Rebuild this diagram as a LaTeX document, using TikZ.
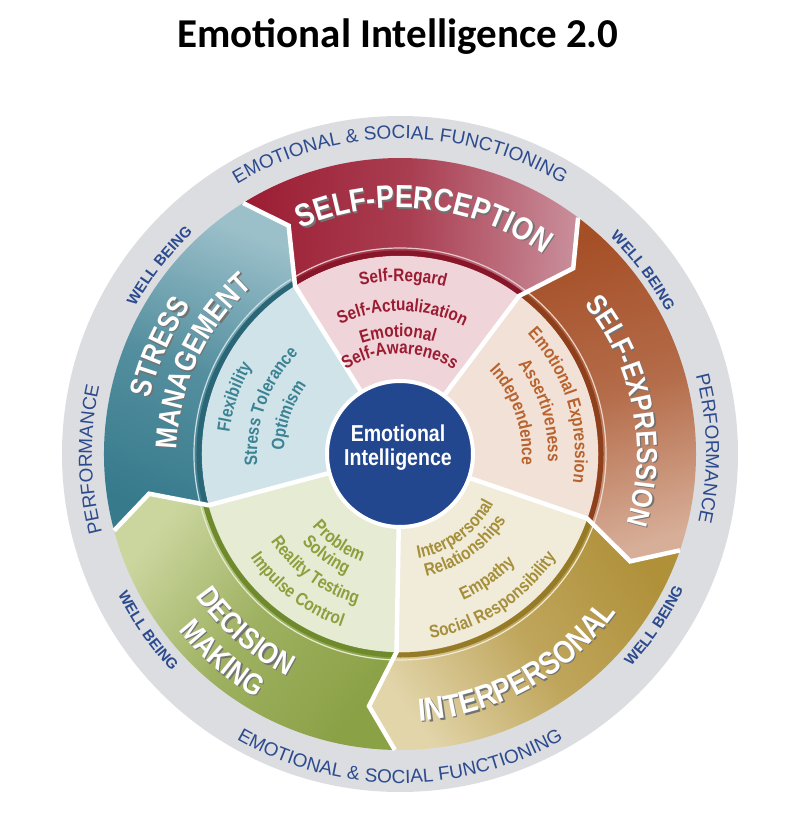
\documentclass[tikz,border=0pt]{standalone}
\usepackage{fontspec}
\setmainfont{Liberation Sans}
\newfontfamily\titlefont{Carlito}
\newfontfamily\condfont{Liberation Sans}[FakeStretch=0.85]
\usetikzlibrary{decorations.text}

\definecolor{percdark}{HTML}{9C1D33}
\definecolor{perclight}{HTML}{C98D9A}
\definecolor{percpale}{HTML}{EFD4D9}
\definecolor{perctext}{HTML}{9B1C32}
\definecolor{percline}{HTML}{861628}
\definecolor{exprdark}{HTML}{A54F27}
\definecolor{exprlight}{HTML}{D7AE98}
\definecolor{exprpale}{HTML}{F1E1D7}
\definecolor{exprtext}{HTML}{B8632E}
\definecolor{exprline}{HTML}{8E3F1C}
\definecolor{interdark}{HTML}{B0913A}
\definecolor{interlight}{HTML}{E2D5AA}
\definecolor{interpale}{HTML}{F1ECDA}
\definecolor{intertext}{HTML}{A58F3A}
\definecolor{interline}{HTML}{957A28}
\definecolor{decidark}{HTML}{8BA146}
\definecolor{decilight}{HTML}{CBD69F}
\definecolor{decipale}{HTML}{E6EBD3}
\definecolor{decitext}{HTML}{8B9F3D}
\definecolor{deciline}{HTML}{6E8A2C}
\definecolor{stredark}{HTML}{367A8C}
\definecolor{strelight}{HTML}{9BC0CA}
\definecolor{strepale}{HTML}{D0E3E9}
\definecolor{stretext}{HTML}{3B8293}
\definecolor{streline}{HTML}{2B6677}
\definecolor{eiblue}{HTML}{23478F}
\definecolor{ringgrey}{HTML}{DCDDE1}
\definecolor{ringblue}{HTML}{2C4B8E}
\colorlet{lblshadow}{black!55}

\newcommand\ringfnt{\fontsize{19}{19}\selectfont}
\newcommand\wellfnt{\bfseries\fontsize{15}{15}\selectfont}
\newcommand\lblfnt[1]{\condfont\bfseries\fontsize{#1}{#1}\selectfont}
\newcommand\subfnt{\condfont\bfseries\fontsize{18}{18}\selectfont}

% radius, centre angle, half span, colour, text
\newcommand\cwtext[5]{\path[decorate,decoration={text along path,text align=center,text color=#4,text={#5}}]
  ({#2+#3}:#1) arc[start angle={#2+#3},end angle={#2-#3},radius=#1];}
\newcommand\ccwtext[5]{\path[decorate,decoration={text along path,text align=center,text color=#4,text={#5}}]
  ({#2-#3}:#1) arc[start angle={#2-#3},end angle={#2+#3},radius=#1];}
% band labels with shadow
\newcommand\cwlabel[4]{\begin{scope}[shift={(1.4pt,-1.4pt)}]\cwtext{#1}{#2}{#3}{lblshadow}{#4}\end{scope}
  \cwtext{#1}{#2}{#3}{white}{#4}}
\newcommand\ccwlabel[4]{\begin{scope}[shift={(1.4pt,-1.4pt)}]\ccwtext{#1}{#2}{#3}{lblshadow}{#4}\end{scope}
  \ccwtext{#1}{#2}{#3}{white}{#4}}

\begin{document}
\begin{tikzpicture}[
  sep/.style={white,line width=4.5pt,line join=miter},
  core/.style={circle,fill=eiblue,draw=white,line width=4pt,minimum size=146pt,inner sep=0pt}]
\useasboundingbox (-400pt,-374pt) rectangle (400pt,454pt);

\node[anchor=base,font=\titlefont\bfseries\fontsize{41}{41}\selectfont] (title) at (-2pt,406pt) {Emotional Intelligence 2.0};

% outer ring
\fill[ringgrey] (0,0) circle[radius=338pt];

% bands and sectors
\foreach \a/\b/\dk/\lt/\pl/\st in {122/53/percdark/perclight/percpale/percline,
    53/-19/exprdark/exprlight/exprpale/exprline,
    -19/-91/interdark/interlight/interpale/interline,
    -91/-165/decidark/decilight/decipale/deciline,
    195/122/stredark/strelight/strepale/streline}{
  \pgfmathsetmacro\sa{(\a+\b)/2-180}
  \shade[top color=\lt,bottom color=\dk,middle color=\dk!70!\lt,shading angle=\sa]
    (\a:296pt) arc[start angle=\a,end angle=\b,radius=296pt] -- ({\b-6}:254pt) -- (\b:198pt)
    arc[start angle=\b,end angle=\a,radius=198pt] -- ({\a-6}:254pt) -- cycle;
  \fill[\pl] (0,0) -- (\a:198pt) arc[start angle=\a,end angle=\b,radius=198pt] -- cycle;
  \draw[\st,line width=5pt] (\a:201pt) arc[start angle=\a,end angle=\b,radius=201pt];
  \draw[\lt!50!white,line width=1.2pt] (\a:206pt) arc[start angle=\a,end angle=\b,radius=206pt];
}
\foreach \t in {122,53,-19,-91,-165}
  \draw[sep] (\t:73pt) -- (\t:198pt) -- ({\t-6}:254pt) -- (\t:296pt);

\node[core] (core) at (0,0) {};
\node[text=white,align=center,font=\condfont\bfseries\fontsize{23}{24}\selectfont] (eilabel) at (-2pt,6pt) {Emotional\\Intelligence};

% ring texts
\cwtext{315pt}{90}{60}{ringblue}{|\ringfnt|EMOTIONAL {\&} SOCIAL FUNCTIONING}
\ccwtext{329pt}{-90}{60}{ringblue}{|\ringfnt|EMOTIONAL {\&} SOCIAL FUNCTIONING}
\cwtext{308pt}{181}{40}{ringblue}{|\ringfnt|PERFORMANCE}
\cwtext{306pt}{1}{40}{ringblue}{|\ringfnt|PERFORMANCE}
\cwtext{303pt}{142}{20}{ringblue}{|\wellfnt|WELL BEING}
\cwtext{302pt}{37}{20}{ringblue}{|\wellfnt|WELL BEING}
\ccwtext{315pt}{-145}{20}{ringblue}{|\wellfnt|WELL BEING}
\ccwtext{314pt}{-34}{20}{ringblue}{|\wellfnt|WELL BEING}

% band labels
\cwlabel{246pt}{84}{50}{|\lblfnt{32}|SELF-PERCEPTION}
\cwlabel{237pt}{11}{50}{|\lblfnt{29}|SELF-EXPRESSION}
\ccwlabel{268pt}{-61}{45}{|\lblfnt{32}|INTERPERSONAL}
\ccwlabel{249pt}{-131}{40}{|\lblfnt{30}|DECISION}
\ccwlabel{283pt}{-131}{40}{|\lblfnt{30}|MAKING}
\cwlabel{256pt}{156}{40}{|\lblfnt{30}|STRESS}
\cwlabel{223pt}{155}{45}{|\lblfnt{30}|MANAGEMENT}

% subscales
\cwtext{173pt}{89}{45}{perctext}{|\subfnt|Self-Regard}
\cwtext{143pt}{89}{50}{perctext}{|\subfnt|Self-Actualization}
\cwtext{117pt}{91}{50}{perctext}{|\subfnt|Emotional}
\cwtext{100pt}{90}{60}{perctext}{|\subfnt|Self-Awareness}

\cwtext{175pt}{17}{50}{exprtext}{|\subfnt|Emotional Expression}
\cwtext{148pt}{17}{50}{exprtext}{|\subfnt|Assertiveness}
\cwtext{122pt}{19}{50}{exprtext}{|\subfnt|Independence}

\ccwtext{106pt}{-54}{50}{intertext}{|\subfnt|Interpersonal}
\ccwtext{125pt}{-55}{50}{intertext}{|\subfnt|Relationships}
\ccwtext{159pt}{-55}{45}{intertext}{|\subfnt|Empathy}
\ccwtext{187pt}{-57}{45}{intertext}{|\subfnt|Social Responsibility}

\ccwtext{114pt}{-125}{50}{decitext}{|\subfnt|Problem}
\ccwtext{132pt}{-126}{50}{decitext}{|\subfnt|Solving}
\ccwtext{156pt}{-126}{50}{decitext}{|\subfnt|Reality Testing}
\ccwtext{182pt}{-127}{45}{decitext}{|\subfnt|Impulse Control}

\cwtext{172pt}{161}{45}{stretext}{|\subfnt|Flexibility}
\cwtext{143pt}{160}{50}{stretext}{|\subfnt|Stress Tolerance}
\cwtext{116pt}{161}{50}{stretext}{|\subfnt|Optimism}
\end{tikzpicture}
\end{document}
